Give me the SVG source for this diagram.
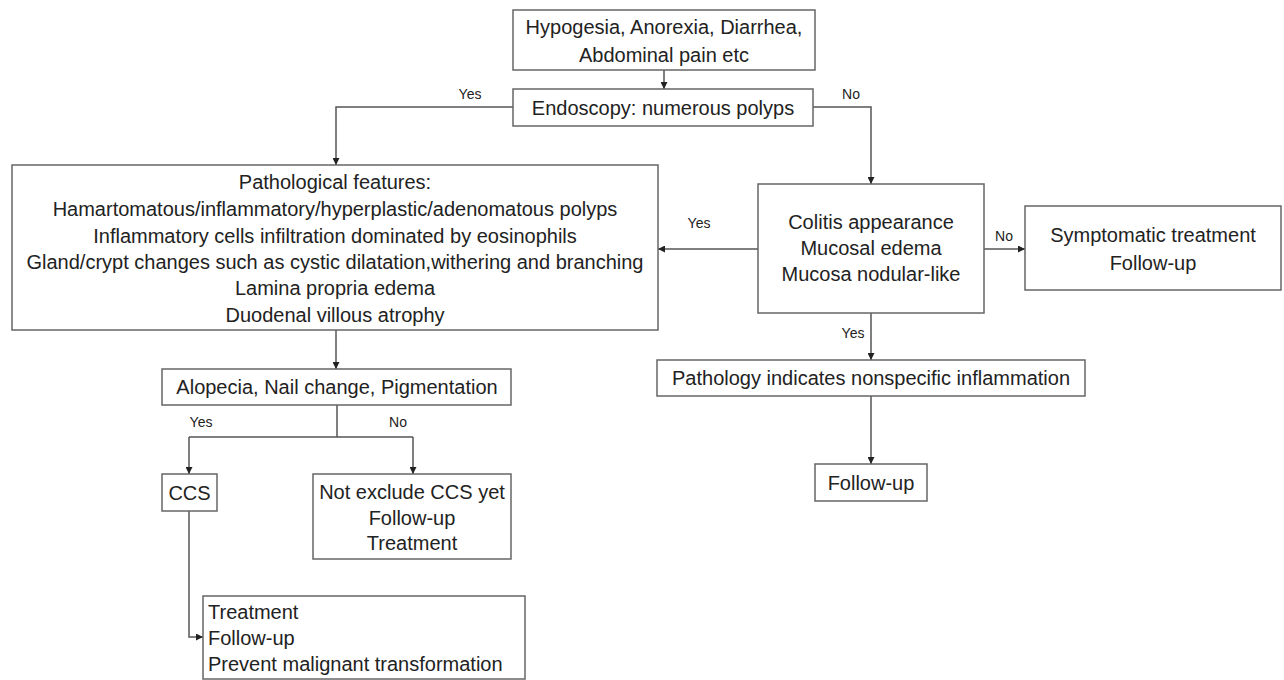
<svg xmlns="http://www.w3.org/2000/svg" width="1284" height="680" viewBox="0 0 1284 680">
<defs>
<marker id="ah" viewBox="0 0 8 8" refX="8" refY="4" markerWidth="7" markerHeight="7" markerUnits="userSpaceOnUse" orient="auto">
<path d="M0,0 L8,4 L0,8 z" fill="#222"/>
</marker>
<style>
.box{fill:#fff;stroke:#666;stroke-width:1.5}
.t{font-family:"Liberation Sans",Arial,sans-serif;font-size:20px;fill:#222;text-anchor:middle}
.tl{font-family:"Liberation Sans",Arial,sans-serif;font-size:20px;fill:#222;text-anchor:start}
.lab{font-family:"Liberation Sans",Arial,sans-serif;font-size:14px;fill:#222;text-anchor:middle}
.c{fill:none;stroke:#555;stroke-width:1.5}
.a{marker-end:url(#ah)}
</style>
</defs>
<rect width="1284" height="680" fill="#fff"/>
<g id="connectors">
<path class="c a" d="M664,70 V89"/>
<path class="c a" d="M513,107 H336 V165"/>
<path class="c a" d="M813,107 H871 V184"/>
<path class="c a" d="M758,249 H658"/>
<path class="c a" d="M984,249 H1025"/>
<path class="c a" d="M871,313 V360"/>
<path class="c a" d="M871,396 V464"/>
<path class="c a" d="M336,330 V369"/>
<path class="c" d="M337,405 V437 M189,437 H413"/>
<path class="c a" d="M189,437 V474"/>
<path class="c a" d="M413,437 V474"/>
<path class="c a" d="M189,511 V637 H203"/>
<text class="lab" x="470" y="99">Yes</text>
<text class="lab" x="851" y="99">No</text>
<text class="lab" x="699" y="228">Yes</text>
<text class="lab" x="1004" y="241">No</text>
<text class="lab" x="853" y="338">Yes</text>
<text class="lab" x="201" y="427">Yes</text>
<text class="lab" x="398" y="427">No</text>
</g>
<g id="symptoms">
<rect class="box" x="513" y="10" width="302" height="60"/>
<text class="t" x="664" y="34">Hypogesia, Anorexia, Diarrhea,</text>
<text class="t" x="664" y="62">Abdominal pain etc</text>
</g>
<g id="endoscopy">
<rect class="box" x="513" y="89" width="300" height="37"/>
<text class="t" x="663" y="115">Endoscopy: numerous polyps</text>
</g>
<g id="pathological">
<rect class="box" x="12" y="165" width="646" height="165"/>
<text class="t" x="335" y="189">Pathological features:</text>
<text class="t" x="335" y="216">Hamartomatous/inflammatory/hyperplastic/adenomatous polyps</text>
<text class="t" x="335" y="243">Inflammatory cells infiltration dominated by eosinophils</text>
<text class="t" x="335" y="269">Gland/crypt changes such as cystic dilatation,withering and branching</text>
<text class="t" x="335" y="295">Lamina propria edema</text>
<text class="t" x="335" y="322">Duodenal villous atrophy</text>
</g>
<g id="colitis">
<rect class="box" x="758" y="184" width="226" height="129"/>
<text class="t" x="871" y="229">Colitis appearance</text>
<text class="t" x="871" y="255">Mucosal edema</text>
<text class="t" x="871" y="281">Mucosa nodular-like</text>
</g>
<g id="symptomatic">
<rect class="box" x="1025" y="206" width="256" height="84"/>
<text class="t" x="1153" y="242">Symptomatic treatment</text>
<text class="t" x="1153" y="270">Follow-up</text>
</g>
<g id="nonspecific">
<rect class="box" x="657" y="360" width="428" height="36"/>
<text class="t" x="871" y="385">Pathology indicates nonspecific inflammation</text>
</g>
<g id="followup">
<rect class="box" x="815" y="464" width="112" height="37"/>
<text class="t" x="871" y="490">Follow-up</text>
</g>
<g id="alopecia">
<rect class="box" x="162" y="369" width="349" height="36"/>
<text class="t" x="337" y="394">Alopecia, Nail change, Pigmentation</text>
</g>
<g id="ccs">
<rect class="box" x="162" y="474" width="55" height="37"/>
<text class="t" x="189.5" y="500">CCS</text>
</g>
<g id="notexclude">
<rect class="box" x="313" y="474" width="198" height="85"/>
<text class="t" x="412" y="499">Not exclude CCS yet</text>
<text class="t" x="412" y="525">Follow-up</text>
<text class="t" x="412" y="550">Treatment</text>
</g>
<g id="treatment">
<rect class="box" x="203" y="596" width="322" height="83"/>
<text class="tl" x="208" y="619">Treatment</text>
<text class="tl" x="208" y="645">Follow-up</text>
<text class="tl" x="208" y="671">Prevent malignant transformation</text>
</g>
</svg>
